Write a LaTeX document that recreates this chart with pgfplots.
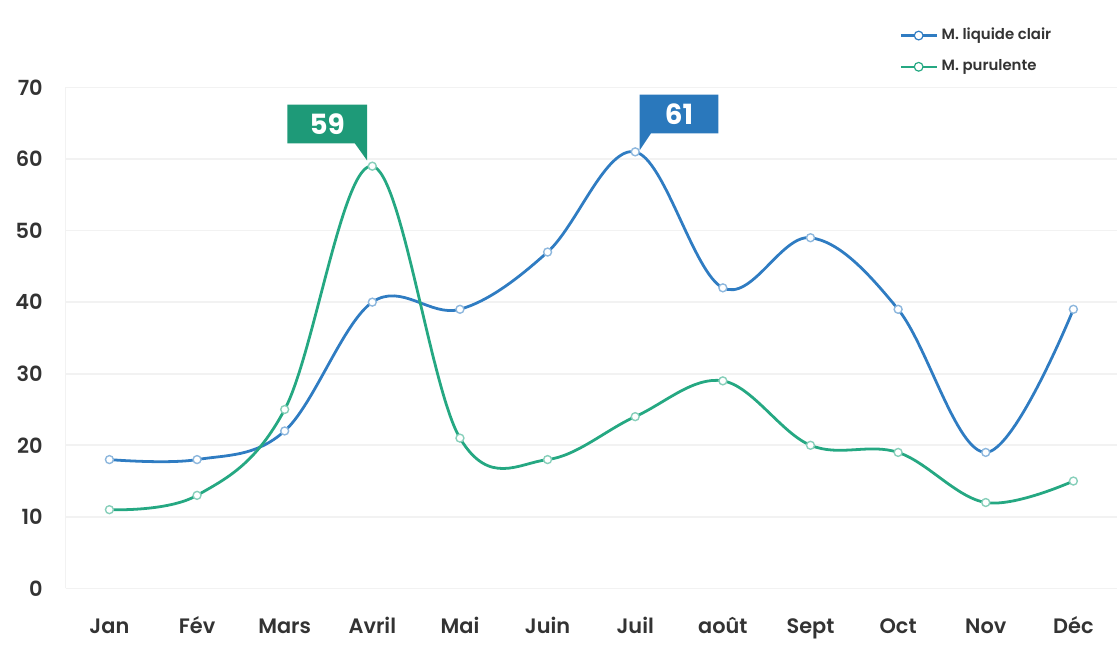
\documentclass[border=0pt]{standalone}
\usepackage{pgfplots}
\pgfplotsset{compat=1.18}
\usepackage{fontspec}
\setmainfont{Poppins}
\newfontfamily\semib{Poppins SemiBold}

\definecolor{liqblue}{HTML}{2F7CC2}
\definecolor{purgreen}{HTML}{25A882}
\definecolor{boxgreen}{HTML}{1E9A78}
\definecolor{boxblue}{HTML}{2A78BC}
\definecolor{ticktext}{HTML}{333333}
\definecolor{gridgray}{HTML}{F2F2F2}

\begin{document}
\begin{tikzpicture}
    \begin{axis}[
        scale only axis,
        width  = 529pt,
        height = 252pt,
        xmin = -0.5, xmax = 11.5,
        ymin = 0, ymax = 70,
        xtick = {0,...,11},
        xticklabels = {Jan, Fév, Mars, Avril, Mai, Juin, Juil, août, Sept, Oct, Nov, Déc},
        ytick = {0,10,...,70},
        ymajorgrids = true,
        grid style = {gridgray, line width=0.8pt},
        axis x line* = bottom,
        axis y line* = left,
        axis line style = {gridgray, line width=0.8pt},
        major tick length = 0pt,
        tick label style = {font=\semib\fontsize{10.5}{12}\selectfont, text=ticktext},
        /pgf/number format/assume math mode=true,
        xticklabel style = {anchor=base, yshift=-22.5pt},
        yticklabel style = {xshift=-8pt},
        clip = false,
        legend style = {
            at={(1,1)}, yshift=34pt, xshift=-28pt, anchor=north east,
            draw=none, fill=none,
            font=\semib\fontsize{7.5}{9}\selectfont,
            text=ticktext,
            row sep=4.5pt,
            legend cell align=left,
        },
        legend image code/.code={
            \draw[#1, line width=1.2pt] (0pt,0pt) -- (18pt,0pt);
            \draw[#1, fill=white, line width=0.6pt] (9pt,0pt) circle (2.2pt);
        },
    ]
        \addplot[liqblue, line width=1.4pt, smooth, tension=0.6,
                 mark=*, mark size=2pt,
                 mark options={fill=white, draw=liqblue!55, line width=0.7pt}]
            coordinates {
            (0,18) (1,18) (2,22) (3,40) (4,39) (5,47) (6,61) (7,42) (8,49) (9,39) (10,19) (11,39)
            };
        \addplot[purgreen, line width=1.4pt, smooth, tension=0.6,
                 mark=*, mark size=2pt,
                 mark options={fill=white, draw=purgreen!55, line width=0.7pt}]
            coordinates {
            (0,11) (1,13) (2,25) (3,59) (4,21) (5,18) (6,24) (7,29) (8,20) (9,19) (10,12) (11,15)
            };
        \legend{M. liquide clair, M. purulente}

        % callout for the purulent peak
        \fill[boxgreen] (axis cs:2.03,62.2) -- (axis cs:2.80,62.2) -- (axis cs:2.94,59.8)
            -- (axis cs:2.94,62.2) -- (axis cs:2.94,67.6) -- (axis cs:2.03,67.6) -- cycle;
        \node[text=white, font=\fontsize{14}{16}\selectfont\bfseries]
            at (axis cs:2.485,64.9) {59};
        % callout for the clear-fluid peak
        \fill[boxblue] (axis cs:6.05,61.2) -- (axis cs:6.05,63.6) -- (axis cs:6.05,69.0)
            -- (axis cs:6.95,69.0) -- (axis cs:6.95,63.6) -- (axis cs:6.18,63.6) -- cycle;
        \node[text=white, font=\fontsize{14}{16}\selectfont\bfseries]
            at (axis cs:6.5,66.3) {61};
    \end{axis}
    \path (current axis.south west) ++(-33pt,-25pt) coordinate (bbsw);
    \path (current axis.north east) ++(0pt,44pt) coordinate (bbne);
    \useasboundingbox (bbsw) rectangle (bbne);
\end{tikzpicture}
\end{document}
